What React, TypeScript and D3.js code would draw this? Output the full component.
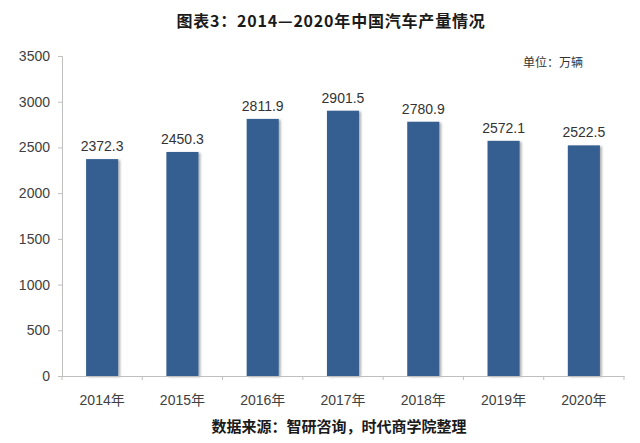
import { useEffect, useRef } from "react"
import * as d3 from "d3"

const years = ["2014年", "2015年", "2016年", "2017年", "2018年", "2019年", "2020年"]
const output = [2372.3, 2450.3, 2811.9, 2901.5, 2780.9, 2572.1, 2522.5]
const yTicks = [0, 500, 1000, 1500, 2000, 2500, 3000, 3500]

const title = "图表3：2014—2020年中国汽车产量情况"
const unit = "单位：万辆"
const source = "数据来源：智研咨询，时代商学院整理"

const FONT = "'Liberation Sans', Arial, 'Noto Sans CJK SC', sans-serif"
const CJK = "'Noto Sans CJK SC', 'Liberation Sans', sans-serif"

export default function App() {
  const svgRef = useRef<SVGSVGElement>(null)

  useEffect(() => {
    if (!svgRef.current) return
    document.body.style.margin = "0"

    const svg = d3.select(svgRef.current)
    svg.selectAll("*").remove()

    const width = 640
    const height = 443
    const left = 62
    const right = 624
    const top = 56
    const bottom = 376

    const data = years.map((year, i) => ({ year, value: output[i] }))

    const x = d3.scaleBand().domain(years).range([left, right]).paddingInner(0.6).paddingOuter(0.3)
    const y = d3.scaleLinear().domain([0, 3500]).range([bottom, top])

    svg.attr("width", width).attr("height", height).attr("viewBox", [0, 0, width, height])

    svg.append("rect").attr("width", width).attr("height", height).attr("fill", "#ffffff")

    // 柱子阴影
    const defs = svg.append("defs")
    defs
      .append("filter")
      .attr("id", "shadow")
      .attr("x", "-20%")
      .attr("y", "-10%")
      .attr("width", "140%")
      .attr("height", "120%")
      .append("feDropShadow")
      .attr("dx", 2)
      .attr("dy", 1)
      .attr("stdDeviation", 1.2)
      .attr("flood-color", "#000")
      .attr("flood-opacity", 0.3)

    // 标题
    svg
      .append("text")
      .attr("x", 331)
      .attr("y", 27)
      .attr("text-anchor", "middle")
      .attr("font-family", CJK)
      .attr("font-weight", "bold")
      .attr("font-size", "16px")
      .attr("letter-spacing", "0.8px")
      .attr("fill", "#1a1a1a")
      .text(title)

    // Y轴
    const yAxis = svg
      .append("g")
      .attr("transform", `translate(${left},0)`)
      .call(d3.axisLeft(y).tickValues(yTicks).tickSize(4).tickPadding(8).tickFormat(d3.format("d")))
    yAxis.select(".domain").attr("stroke", "#bfbfbf")
    yAxis.selectAll(".tick line").attr("stroke", "#bfbfbf")
    yAxis
      .selectAll(".tick text")
      .attr("font-family", FONT)
      .attr("font-size", "14px")
      .attr("fill", "#404040")

    // 柱子
    svg
      .selectAll(".bar")
      .data(data)
      .enter()
      .append("rect")
      .attr("class", "bar")
      .attr("x", (d) => x(d.year)!)
      .attr("y", (d) => y(d.value))
      .attr("width", x.bandwidth())
      .attr("height", (d) => y(0) - y(d.value))
      .attr("fill", "#355f91")
      .attr("filter", "url(#shadow)")

    // X轴
    const xAxis = svg
      .append("g")
      .attr("transform", `translate(0,${bottom})`)
      .call(d3.axisBottom(x).tickSize(0).tickPadding(19))
    xAxis.select(".domain").attr("stroke", "#bfbfbf")
    xAxis
      .selectAll(".tick text")
      .attr("font-family", FONT)
      .attr("font-size", "14px")
      .attr("fill", "#404040")

    // 分类间刻度
    const edges = d3.range(years.length + 1).map((i) => left + i * ((right - left) / years.length))
    svg
      .append("g")
      .selectAll("line")
      .data(edges)
      .enter()
      .append("line")
      .attr("x1", (d) => d)
      .attr("x2", (d) => d)
      .attr("y1", bottom)
      .attr("y2", bottom + 4)
      .attr("stroke", "#bfbfbf")

    // 数值标签
    svg
      .selectAll(".label")
      .data(data)
      .enter()
      .append("text")
      .attr("class", "label")
      .attr("x", (d) => x(d.year)! + x.bandwidth() / 2)
      .attr("y", (d) => y(d.value) - 8)
      .attr("text-anchor", "middle")
      .attr("font-family", FONT)
      .attr("font-size", "14px")
      .attr("fill", "#333333")
      .text((d) => d3.format(".1f")(d.value))

    // 单位
    svg
      .append("text")
      .attr("x", 583)
      .attr("y", 67)
      .attr("text-anchor", "end")
      .attr("font-family", CJK)
      .attr("font-size", "12px")
      .attr("fill", "#333333")
      .text(unit)

    // 数据来源
    svg
      .append("text")
      .attr("x", 339)
      .attr("y", 432)
      .attr("text-anchor", "middle")
      .attr("font-family", CJK)
      .attr("font-weight", "bold")
      .attr("font-size", "15px")
      .attr("fill", "#1a1a1a")
      .text(source)
  }, [])

  return <svg ref={svgRef} style={{ display: "block" }}></svg>
}
